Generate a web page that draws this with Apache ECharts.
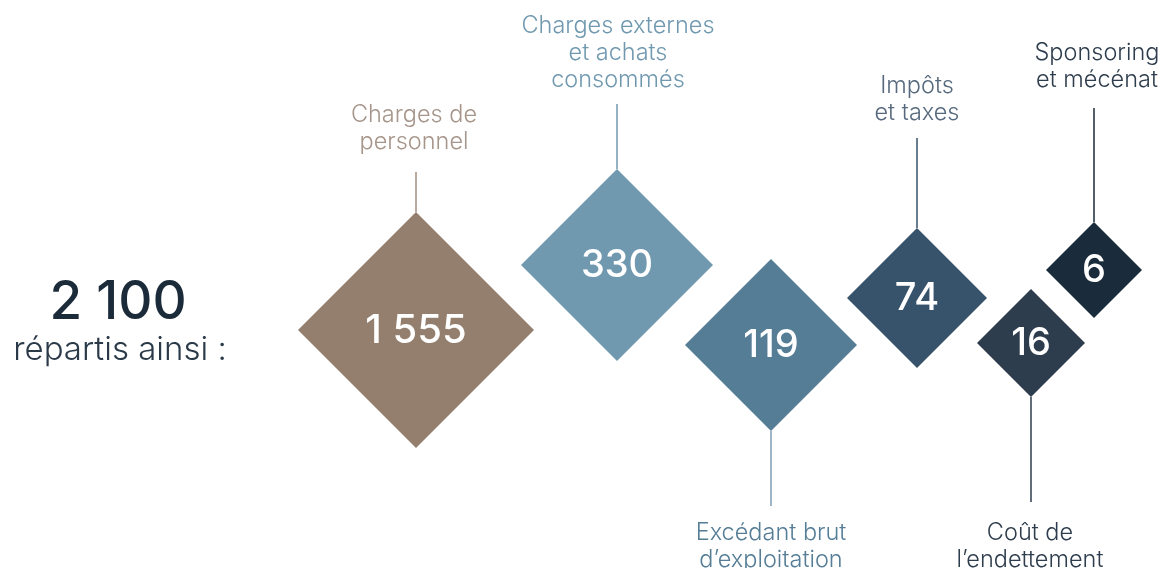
<!DOCTYPE html>
<html>
<head>
<meta charset="utf-8">
<script src="https://cdn.jsdelivr.net/npm/echarts@6/dist/echarts.min.js"></script>
<style>
html,body{margin:0;padding:0;background:#fff;}
#c{width:1166px;height:568px;}
</style>
</head>
<body>
<div id="c"></div>
<script>
// ---- data ----
const categories = [
  'Charges de\npersonnel',
  'Charges externes\net achats\nconsommés',
  'Excédant brut\nd\u2019exploitation',
  'Impôts\net taxes',
  'Coût de\nl\u2019endettement',
  'Sponsoring\net mécénat'
];
const values = [1555, 330, 119, 74, 16, 6];
const valueLabels = ['1 555', '330', '119', '74', '16', '6'];
const totalLabel = '2 100';
const totalCaption = 'répartis ainsi :';

// ---- layout (axis units = pixels of the 1166x568 canvas) ----
const layout = [
  {cx: 416,  cy: 330, half: 118, side: 'top',    lineEnd: 172, labelX: 414, labelY: 128},
  {cx: 617,  cy: 265, half: 96,  side: 'top',    lineEnd: 104, labelX: 618, labelY: 53},
  {cx: 771,  cy: 345, half: 86,  side: 'bottom', lineEnd: 506, labelX: 771, labelY: 546},
  {cx: 917,  cy: 298, half: 70,  side: 'top',    lineEnd: 138, labelX: 917, labelY: 99},
  {cx: 1031, cy: 343, half: 54,  side: 'bottom', lineEnd: 502, labelX: 1030, labelY: 546},
  {cx: 1094, cy: 270, half: 48,  side: 'top',    lineEnd: 108, labelX: 1097, labelY: 66}
];
const fills = ['#947f6e', '#7099b0', '#557d96', '#37526b', '#2e3d4d', '#1a2b3b'];
const lineColors = ['#a08e7f', '#7099b0', '#7d9db2', '#37526b', '#2e3d4d', '#1a2b3b'];
const labelColors = ['#a6958a', '#7099b0', '#557d96', '#56697d', '#2e3d4d', '#2e3d4d'];
const valueFont = [40, 38, 38, 38, 38, 38];

const FONT = 'Inter, "Noto Sans", sans-serif';

const seriesData = values.map((v, i) => ({
  value: [layout[i].cx, layout[i].cy, layout[i].half, v],
  name: categories[i]
}));

const chart = echarts.init(document.getElementById('c'), null, {renderer: 'canvas'});
chart.setOption({
  animation: false,
  backgroundColor: '#ffffff',
  grid: {left: 0, right: 0, top: 0, bottom: 0},
  xAxis: {type: 'value', min: 0, max: 1166, show: false},
  yAxis: {type: 'value', min: 0, max: 568, inverse: true, show: false},
  graphic: [
    {type: 'text', x: 118, y: 303, style: {
      text: totalLabel, x: 0, y: 0, align: 'center', verticalAlign: 'middle',
      font: '500 53px ' + FONT, fill: '#1c2b3a'}},
    {type: 'text', x: 120, y: 350, style: {
      text: totalCaption, x: 0, y: 0, align: 'center', verticalAlign: 'middle',
      font: '300 33px ' + FONT, fill: '#2b3a49'}}
  ],
  series: [{
    type: 'custom',
    coordinateSystem: 'cartesian2d',
    data: seriesData,
    renderItem: function (params, api) {
      const i = params.dataIndex;
      const L = layout[i];
      const c = api.coord([api.value(0), api.value(1)]);
      const h = api.size([api.value(2), 0])[0];
      const edgeY = L.side === 'top' ? c[1] - h : c[1] + h;
      const endPt = api.coord([api.value(0), L.lineEnd]);
      const lab = api.coord([L.labelX, L.labelY]);
      return {
        type: 'group',
        children: [
          {type: 'polygon', shape: {points: [[c[0], c[1] - h], [c[0] + h, c[1]], [c[0], c[1] + h], [c[0] - h, c[1]]]},
           style: {fill: fills[i]}},
          {type: 'line', shape: {x1: c[0], y1: edgeY, x2: c[0], y2: endPt[1]},
           style: {stroke: lineColors[i], lineWidth: 1.5}},
          {type: 'text', style: {text: valueLabels[i], x: c[0], y: c[1] + 1, align: 'center', verticalAlign: 'middle',
            font: '500 ' + valueFont[i] + 'px ' + FONT, fill: '#ffffff'}},
          {type: 'text', style: {text: categories[i], x: lab[0], y: lab[1], align: 'center', verticalAlign: 'middle',
            font: '300 23.5px ' + FONT, lineHeight: 27, fill: labelColors[i]}}
        ]
      };
    }
  }]
});
</script>
</body>
</html>
